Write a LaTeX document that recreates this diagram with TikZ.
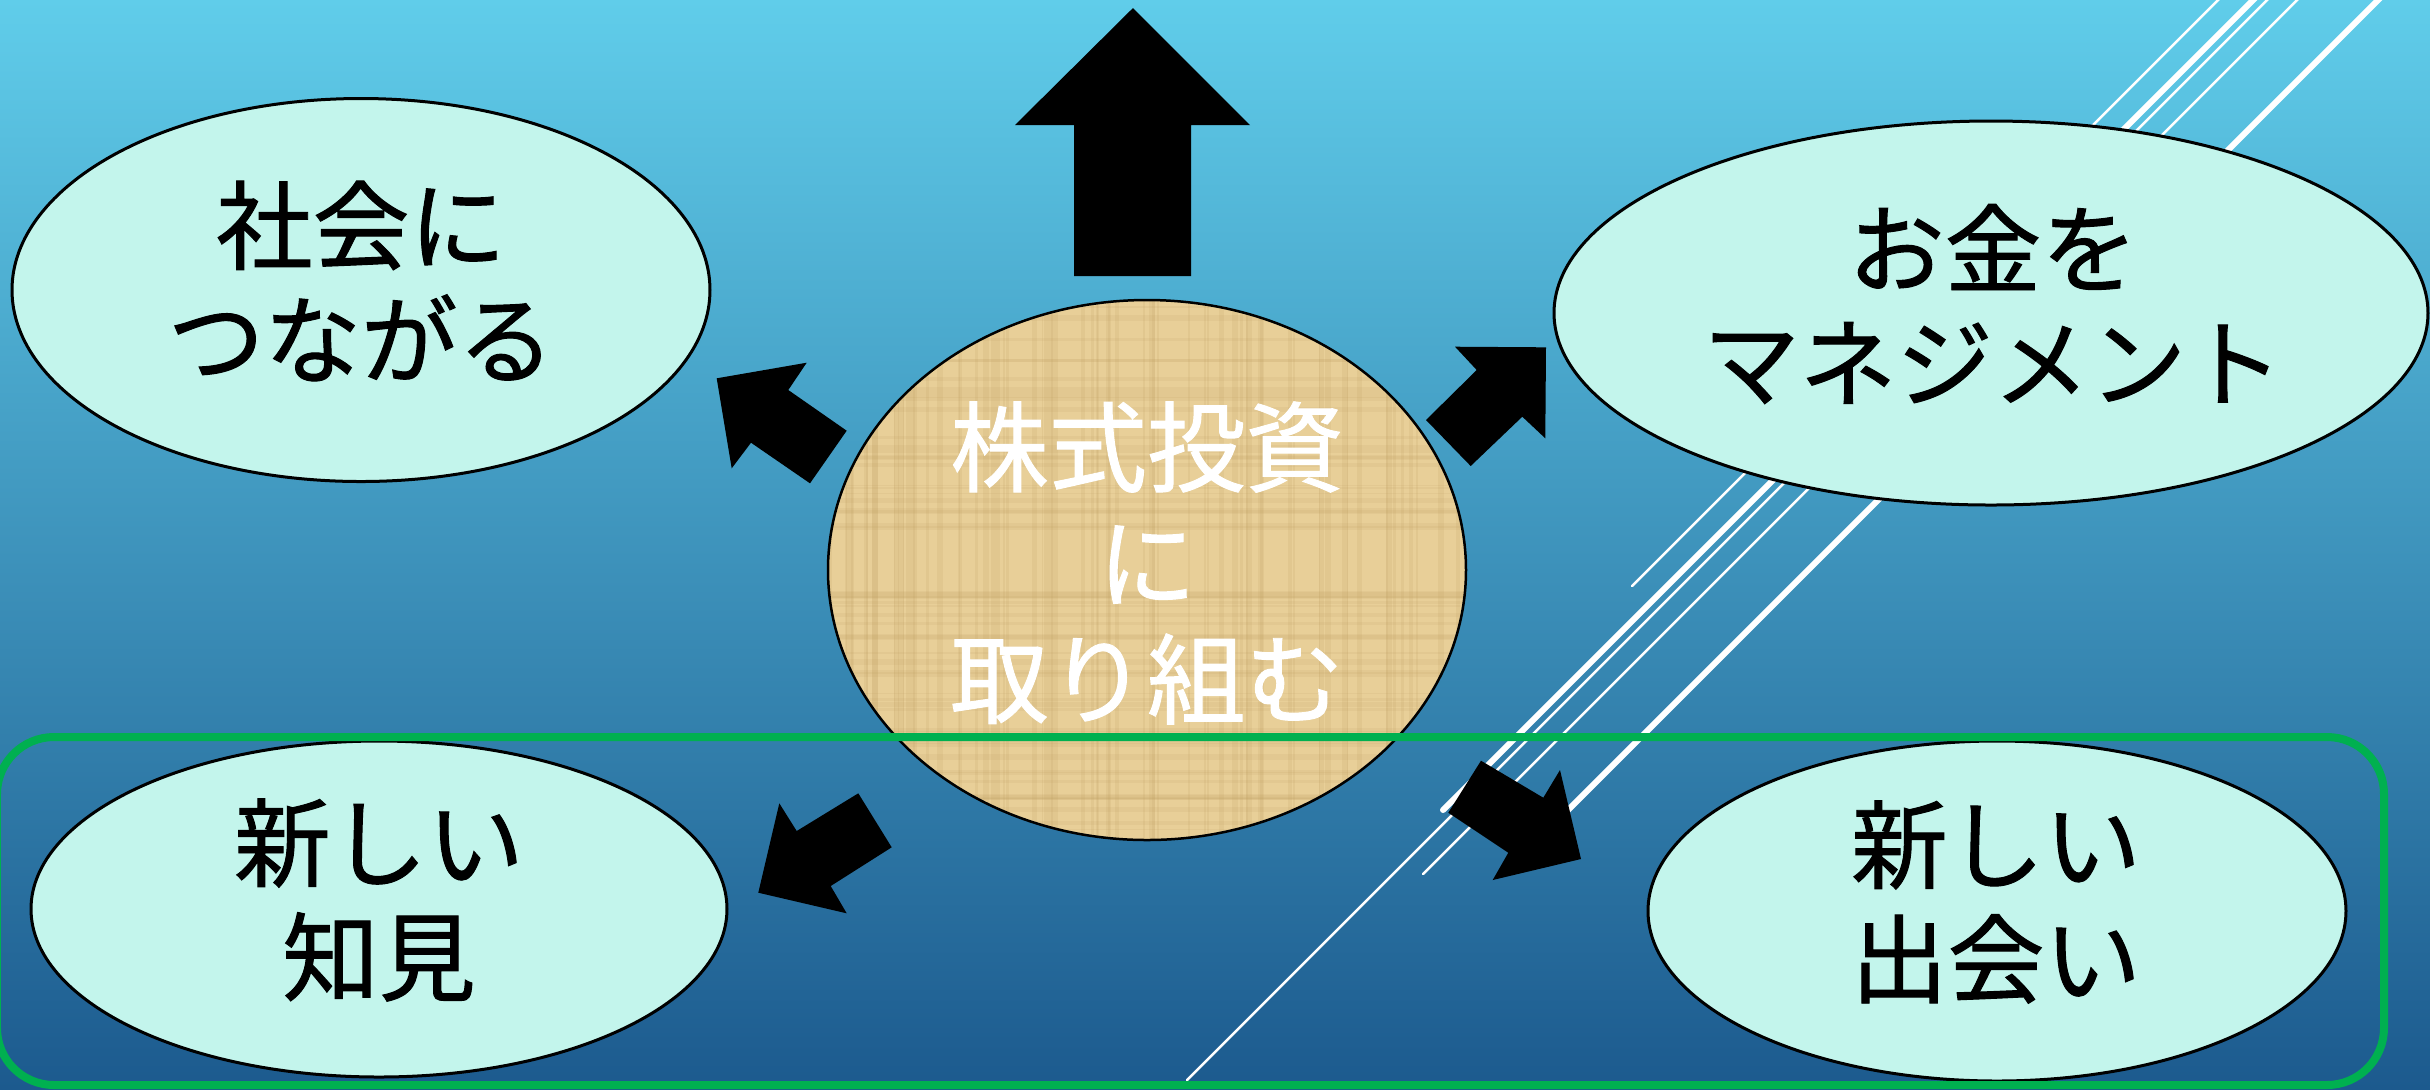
\documentclass[tikz,border=0pt]{standalone}
\usepackage{fontspec}
\setmainfont{Noto Sans CJK JP}[FakeBold=1.0]
\usetikzlibrary{shapes.geometric}
\definecolor{bgtop}{HTML}{60CDEA}
\definecolor{bgmid}{HTML}{4AA5CA}
\definecolor{bgbot}{HTML}{1C5A8E}
\definecolor{mint}{HTML}{C3F5EC}
\definecolor{paper}{HTML}{E8CF98}
\definecolor{paperdark}{HTML}{B8985A}
\definecolor{framegreen}{HTML}{00B050}
\begin{document}
\begin{tikzpicture}[x=0.1mm,y=-0.1mm,
  bubble/.style={ellipse, draw=black, line width=0.3mm, fill=mint, inner sep=0pt},
  bubbletext/.style={align=center, inner sep=0pt, font=\fontsize{27.5}{32.5}\selectfont, text=black},
  centerbubble/.style={ellipse, draw=black, line width=0.25mm, fill=paper, inner sep=0pt,
    path picture={
      \pgfmathsetseed{7}
      \foreach \k in {1,...,70}{
        \pgfmathsetmacro{\px}{rnd*64}
        \pgfmathsetmacro{\pw}{0.1+rnd*0.5}
        \draw[paperdark, opacity=0.13, line width=\pw mm]
          ([xshift=\px mm]path picture bounding box.south west) -- ([xshift=\px mm]path picture bounding box.north west);}
      \foreach \k in {1,...,60}{
        \pgfmathsetmacro{\py}{rnd*54}
        \pgfmathsetmacro{\pw}{0.1+rnd*0.5}
        \draw[paperdark, opacity=0.11, line width=\pw mm]
          ([yshift=\py mm]path picture bounding box.south west) -- ([yshift=\py mm]path picture bounding box.south east);}
    }},
  centertext/.style={align=center, inner sep=0pt, font=\fontsize{28}{33}\selectfont, text=white},
  blockarrow/.style={fill=black, draw=none},
  thinline/.style={draw=white, line width=0.25mm, line cap=round},
  thickline/.style={draw=white, line width=0.6mm, line cap=round},
  greenframe/.style={draw=framegreen, line width=0.8mm, rounded corners=5.7mm}]
\useasboundingbox (0,0) rectangle (2430,1089);
% background
\shade[top color=bgtop, middle color=bgmid, bottom color=bgbot] (0,0) rectangle (2430,1089);
% decorative lines
\begin{scope}
\clip (0,0) rectangle (2430,1089);
\coordinate (l1a) at (2268,-50); \coordinate (l1b) at (1632,586);
\coordinate (l2a) at (2303,-50); \coordinate (l2b) at (1443,810);
\coordinate (l3a) at (2317,-50); \coordinate (l3b) at (1187,1080);
\coordinate (l4a) at (2347,-50); \coordinate (l4b) at (1423,874);
\coordinate (l5a) at (2428,-50); \coordinate (l5b) at (1540,838);
\draw[thinline] (l1a) -- (l1b);
\draw[thickline] (l2a) -- (l2b);
\draw[thinline] (l3a) -- (l3b);
\draw[thinline] (l4a) -- (l4b);
\draw[thickline] (l5a) -- (l5b);
\end{scope}
% bubbles
\node[bubble, minimum width=69.8mm, minimum height=38.3mm] (tl) at (361,290) {};
\node[bubble, minimum width=87.4mm, minimum height=38.4mm] (tr) at (1991,313) {};
\node[bubble, minimum width=69.6mm, minimum height=33.6mm] (bl) at (379,909) {};
\node[bubble, minimum width=69.8mm, minimum height=34mm] (br) at (1997,911) {};
\node[centerbubble, minimum width=63.8mm, minimum height=54mm] (c) at (1147,570) {};
\node[bubbletext] (tltext) at (361,281) {社会に\\つながる};
\node[bubbletext] (trtext) at (1993,304) {お金を\\マネジメント};
\node[bubbletext] (bltext) at (379,900) {新しい\\知見};
\node[bubbletext] (brtext) at (1996,902) {新しい\\出会い};
\node[centertext] (ctext) at (1147,563) {株式投資\\に\\取り組む};
% block arrows
\fill[blockarrow] (1133,8) -- (1250,125) -- (1191,125) -- (1191,276) -- (1074,276) -- (1074,125) -- (1015,125) -- cycle;
\fill[blockarrow] (716.7,378.3) -- (806.7,362.7) -- (788.3,390) -- (846.7,430.7) -- (810,483.3) -- (751,442.7) -- (731.7,468.3) -- cycle;
\fill[blockarrow] (758.3,892.7) -- (779.3,803.3) -- (796.7,831) -- (858.3,793.3) -- (891.7,847.3) -- (830.7,886) -- (846.7,913.3) -- cycle;
\fill[blockarrow] (1546,347.3) -- (1545.3,438.3) -- (1522.3,416.7) -- (1470.7,466) -- (1426,420) -- (1476.7,370) -- (1455,346.7) -- cycle;
\fill[blockarrow] (1581,859) -- (1492.7,880) -- (1508.3,852.7) -- (1448.3,812.7) -- (1481,760.7) -- (1543.3,797.7) -- (1560,770) -- cycle;
% green frame
\draw[greenframe] (-3,737) rectangle (2384,1085);
\end{tikzpicture}
\end{document}
